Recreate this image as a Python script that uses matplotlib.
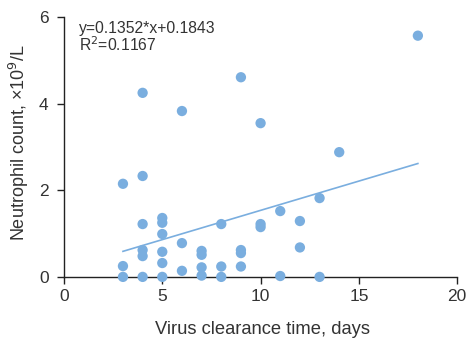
import matplotlib
matplotlib.use("Agg")
import matplotlib.pyplot as plt
import numpy as np

plt.rcParams['font.family'] = ['Liberation Sans', 'DejaVu Sans']

clearance_days = [3, 3, 3,
                  4, 4, 4, 4, 4, 4,
                  5, 5, 5, 5, 5, 5,
                  6, 6, 6,
                  7, 7, 7, 7,
                  8, 8, 8,
                  9, 9, 9, 9,
                  10, 10, 10,
                  11, 11,
                  12, 12,
                  13, 13,
                  14, 18]
neutrophil = [2.15, 0.25, 0.0,
              4.25, 2.33, 1.22, 0.62, 0.48, 0.0,
              1.36, 1.25, 0.99, 0.58, 0.32, 0.0,
              3.83, 0.78, 0.14,
              0.60, 0.51, 0.22, 0.03,
              1.22, 0.24, 0.0,
              4.61, 0.62, 0.55, 0.24,
              3.55, 1.22, 1.15,
              1.52, 0.02,
              1.29, 0.68,
              1.82, 0.0,
              2.88, 5.57]
slope = 0.1352
intercept = 0.1843
r_squared = 0.1167
x_ticks = [0, 5, 10, 15, 20]
y_ticks = [0, 2, 4, 6]

color = '#7aaedf'

fig = plt.figure(figsize=(4.67, 3.41), dpi=100)
ax = fig.add_axes([0.137, 0.188, 0.842, 0.762])

ax.scatter(clearance_days, neutrophil, s=55, color=color, edgecolors='none',
           zorder=3, clip_on=False)
xs = np.array([min(clearance_days), max(clearance_days)])
ax.plot(xs, slope * xs + intercept, color=color, lw=1.2, zorder=2)

ax.set_xlim(0, 20)
ax.set_ylim(0, 6)
ax.set_xticks(x_ticks)
ax.set_yticks(y_ticks)
ax.spines['top'].set_visible(False)
ax.spines['right'].set_visible(False)
for s in ['left', 'bottom']:
    ax.spines[s].set_linewidth(1.0)
    ax.spines[s].set_color('#222222')
ax.tick_params(axis='both', direction='out', length=5, width=1.0,
               labelsize=12.5, colors='#222222', labelcolor='#333333')
ax.tick_params(axis='x', pad=4)
ax.tick_params(axis='y', pad=6)

ax.set_xlabel('Virus clearance time, days', fontsize=13.2, color='#333333')
ax.set_ylabel('Neutrophil count, ×10$^{9}$/L', fontsize=13.0, color='#333333')
ax.xaxis.set_label_coords(0.506, -0.17)
ax.yaxis.set_label_coords(-0.084, 0.515)

ax.text(0.038, 0.983, f'y={slope}*x+{intercept}\nR$^{{2}}$={r_squared}',
        transform=ax.transAxes, fontsize=11.3, color='#333333',
        va='top', ha='left', linespacing=0.95)

fig.savefig('out.png', dpi=100)
